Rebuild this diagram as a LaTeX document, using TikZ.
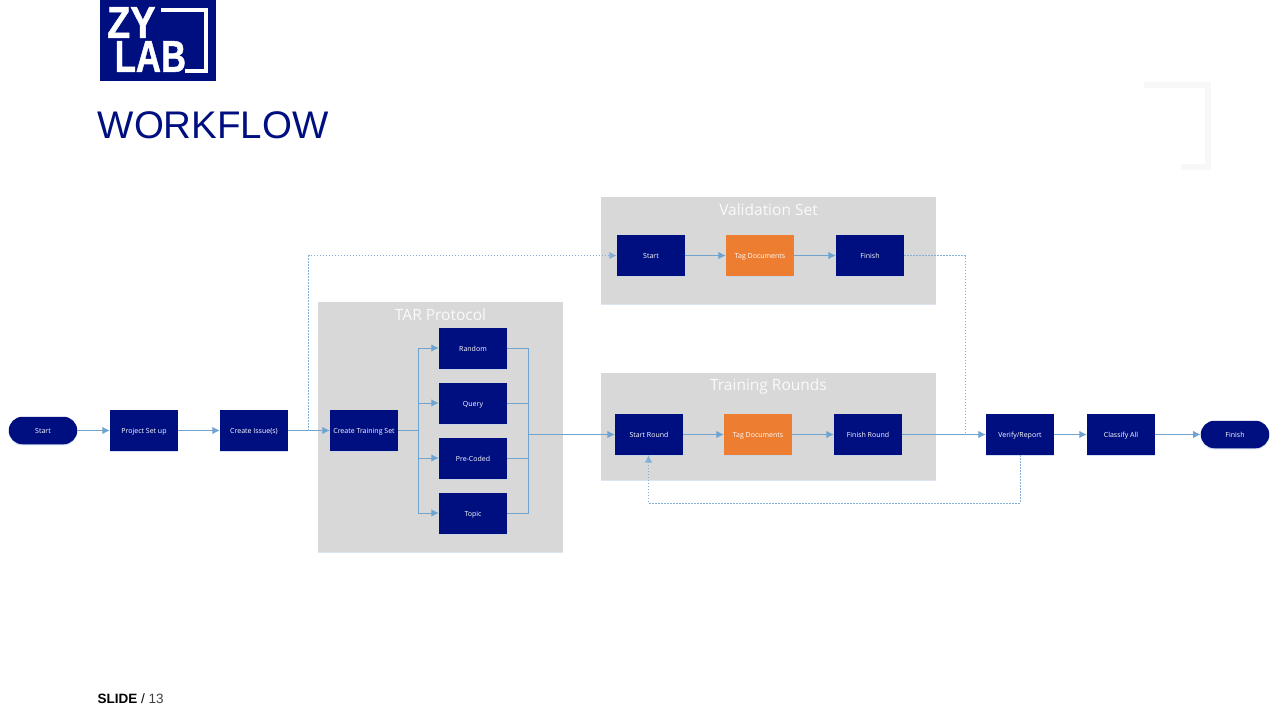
\documentclass[tikz,border=0pt]{standalone}
\usepackage{fontspec}
\setmainfont{Open Sans}
\newfontfamily\arialfont{Liberation Sans}
\newfontfamily\logofont[FakeBold=1.2]{Liberation Sans}
\usetikzlibrary{arrows.meta,shapes.misc,calc,shadows}
\definecolor{navy}{HTML}{000F80}
\definecolor{tagorange}{HTML}{ED7D31}
\definecolor{groupgray}{HTML}{D8D8D8}
\definecolor{flowblue}{HTML}{6FA3D0}
\definecolor{dotblue}{HTML}{86AFD8}
\definecolor{edgeblue}{HTML}{C4D4EE}
\definecolor{ghost}{HTML}{F7F7F7}
\tikzset{
  x=1pt,y=-1pt,
  softshadow/.style={drop shadow={shadow xshift=0pt,shadow yshift=-1.2pt,fill=edgeblue,opacity=0.7}},
  boxbase/.style={minimum width=68pt,minimum height=41pt,inner sep=0pt,text=white,font=\fontsize{7}{8}\selectfont,text height=6.2pt,text depth=0pt,softshadow},
  navybox/.style={boxbase,fill=navy},
  orangebox/.style={boxbase,fill=tagorange},
  pill/.style={boxbase,fill=navy,rounded rectangle,minimum width=68.5pt,minimum height=27.5pt},
  groupbox/.style={fill=groupgray,minimum width=335pt,minimum height=107pt,inner sep=0pt,drop shadow={shadow xshift=0pt,shadow yshift=-1pt,fill=edgeblue,opacity=0.6}},
  grouptitle/.style={text=white!88!groupgray,font=\fontsize{15.5}{18}\selectfont,inner sep=0pt},
  flow/.style={draw=flowblue,line width=1pt},
  flowarrow/.style={flow,-{Latex[length=7.5pt,width=7.5pt]}},
  dots/.style={draw=dotblue,line width=1pt,dash pattern=on 1.5pt off 1.5pt},
  dotsarrow/.style={dots,-{Latex[length=7.5pt,width=7.5pt]}}
}
\begin{document}
\begin{tikzpicture}
\useasboundingbox (0,0) rectangle (1280,720);
\fill[white] (0,0) rectangle (1280,720);
% ghost logo bracket
\draw[ghost,line width=6pt] (1144,85) -- (1208,85) -- (1208,167) -- (1181,167);
% logo
\node[fill=navy,minimum width=116pt,minimum height=80.5pt,inner sep=0pt] (logo) at (158,40.25) {};
\draw[white,line width=4.4pt] (161,10) -- (206,10) -- (206,70.8) -- (185,70.8);
\node[text=white,font=\logofont\bfseries\fontsize{44.5}{34}\selectfont,inner sep=0pt,anchor=north west,align=left] (logotext) at (107,7) {\scalebox{.85}[1]{ZY}\\\hspace*{7.5pt}\scalebox{.78}[1]{LAB}};
% heading
\node[text=navy,font=\arialfont\fontsize{38.5}{42}\selectfont,inner sep=0pt,anchor=west] (heading) at (97.5,125) {WORKFLOW};
\node[text=black,font=\arialfont\fontsize{13.5}{15}\selectfont,inner sep=0pt,anchor=west] (slide) at (97.5,698.5) {\textbf{SLIDE} / \textcolor{black!75}{13}};
% groups
\node[groupbox] (valgroup) at (768.5,250.5) {};
\node[groupbox] (trngroup) at (768.5,426.5) {};
\node[groupbox,minimum width=245pt,minimum height=250pt] (targroup) at (440.5,427) {};
\node[grouptitle] (valtitle) at (768.5,210) {Validation Set};
\node[grouptitle] (trntitle) at (768.5,386.5) {Training Rounds};
\node[grouptitle] (tartitle) at (440.5,314.5) {TAR Protocol};
% main row
\node[pill] (start) at (43,430.5) {Start};
\node[navybox] (project) at (144,430.5) {Project Set up};
\node[navybox] (issues) at (254,430.5) {Create Issue(s)};
\node[navybox] (training) at (364,430.5) {Create Training Set};
% TAR
\node[navybox] (random) at (473,348) {Random};
\node[navybox] (query) at (473,403) {Query};
\node[navybox] (precoded) at (473,458) {Pre-Coded};
\node[navybox] (topic) at (473,513) {Topic};
% validation
\node[navybox] (vstart) at (651,255.5) {Start};
\node[orangebox] (vtag) at (760,255.5) {Tag Documents};
\node[navybox] (vfinish) at (870,255.5) {Finish};
% training
\node[navybox] (tstart) at (649,434.5) {Start Round};
\node[orangebox] (ttag) at (758,434.5) {Tag Documents};
\node[navybox] (tfinish) at (868,434.5) {Finish Round};
\node[navybox] (verify) at (1020,434.5) {Verify/Report};
\node[navybox] (classify) at (1121,434.5) {Classify All};
\node[pill] (finish) at (1235,434.5) {Finish};
% junctions
\coordinate (split) at (418.5,430.5);
\coordinate (merge) at (528.5,434.5);
\coordinate (vtap) at (308.5,430.5);
\coordinate (vcorner) at (308.5,255.5);
\coordinate (fcorner) at (965,255.5);
\coordinate (fjoin) at (965,434.5);
\coordinate (loopa) at (1020,503);
\coordinate (loopb) at (648.5,503);
\coordinate (loopc) at (648.5,455);
% flows
\draw[flowarrow] (start.east) -- (project.west);
\draw[flowarrow] (project.east) -- (issues.west);
\draw[flowarrow] (issues.east) -- (training.west);
\draw[flow] (training.east) -- (split);
\foreach \t in {random,query,precoded,topic}{
  \draw[flowarrow] (split) |- (\t.west);
  \draw[flow] (\t.east) -| (merge);
}
\draw[flowarrow] (merge) -- (tstart.west);
\draw[flowarrow] (tstart.east) -- (ttag.west);
\draw[flowarrow] (ttag.east) -- (tfinish.west);
\draw[flowarrow] (tfinish.east) -- (verify.west);
\draw[flowarrow] (verify.east) -- (classify.west);
\draw[flowarrow] (classify.east) -- (finish.west);
\draw[flowarrow] (vstart.east) -- (vtag.west);
\draw[flowarrow] (vtag.east) -- (vfinish.west);
% dotted
\draw[dotsarrow] (vtap) -- (vcorner) -- (vstart.west);
\draw[dots] (vfinish.east) -- (fcorner) -- (fjoin);
\draw[dotsarrow] (verify.south) -- (loopa) -- (loopb) -- (loopc);
\end{tikzpicture}
\end{document}
